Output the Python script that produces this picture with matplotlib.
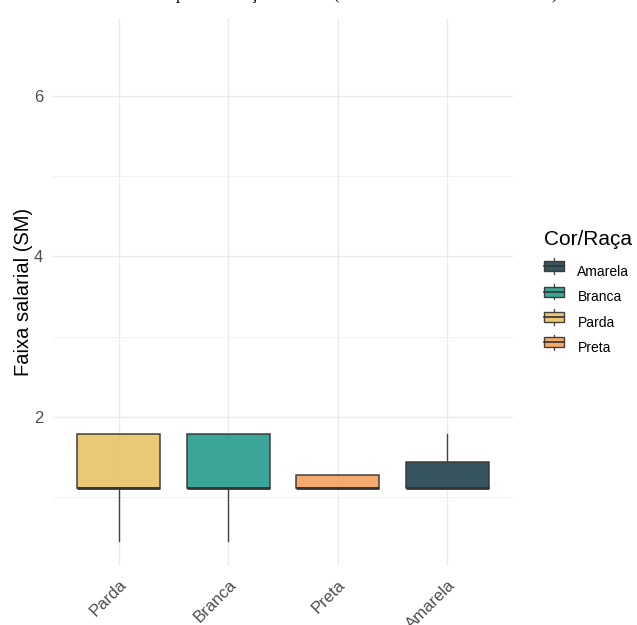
import matplotlib.pyplot as plt
from matplotlib.patches import Rectangle
from matplotlib.lines import Line2D
from matplotlib.legend_handler import HandlerBase

plt.rcParams['font.family'] = ['Liberation Sans', 'DejaVu Sans']

# --- dados (faixa salarial em SM) ---
categorias = ['Parda', 'Branca', 'Preta', 'Amarela']
q1 = [1.116, 1.116, 1.116, 1.116]
mediana = [1.116, 1.116, 1.116, 1.116]
q3 = [1.79, 1.79, 1.278, 1.44]
whis_inf = [0.456, 0.456, 1.116, 1.116]
whis_sup = [1.79, 1.79, 1.278, 1.79]
cores = {'Amarela': '#264653', 'Branca': '#2A9D8F', 'Parda': '#E9C46A', 'Preta': '#F4A261'}
ordem_legenda = ['Amarela', 'Branca', 'Parda', 'Preta']

fig = plt.figure(figsize=(6.37, 6.25), dpi=100, facecolor='white')
ax = fig.add_axes([0.0832, 0.0944, 0.7221, 0.8768])

stats = []
for i, c in enumerate(categorias):
    stats.append({'label': c, 'q1': q1[i], 'med': mediana[i], 'q3': q3[i],
                  'whislo': whis_inf[i], 'whishi': whis_sup[i], 'fliers': []})

pos = list(range(1, len(categorias) + 1))
bp = ax.bxp(stats, positions=pos, widths=0.76, patch_artist=True, showcaps=False,
            showfliers=False, zorder=3,
            boxprops=dict(edgecolor='#333333', linewidth=1.1),
            whiskerprops=dict(color='#444444', linewidth=1.0),
            medianprops=dict(color='#333333', linewidth=2.0))
for patch, c in zip(bp['boxes'], categorias):
    patch.set_facecolor(cores[c])
    patch.set_alpha(0.92)

ax.set_xlim(0.4, len(categorias) + 0.6)
ax.set_ylim(0.144, 6.97)
ax.set_yticks([2, 4, 6])
ax.set_yticks([1, 3, 5], minor=True)
ax.set_xticks(pos)
ax.set_xticklabels(categorias, rotation=45, ha='right', va='top',
                   rotation_mode='anchor', fontsize=12, color='#4D4D4D')
ax.tick_params(axis='y', labelsize=12, labelcolor='#4D4D4D', length=0, pad=7)
ax.tick_params(axis='y', which='minor', length=0)
ax.tick_params(axis='x', length=0, pad=8)
ax.grid(True, which='major', color='#EBEBEB', linewidth=1.0, zorder=0)
ax.grid(True, which='minor', axis='y', color='#F2F2F2', linewidth=0.7, zorder=0)
ax.set_axisbelow(True)
for s in ax.spines.values():
    s.set_visible(False)
ax.set_ylabel('Faixa salarial (SM)', fontsize=14.5, labelpad=1)


class HandlerBox(HandlerBase):
    def create_artists(self, legend, orig, xd, yd, w, h, fs, trans):
        cor = orig.get_facecolor()
        r = Rectangle((xd, yd + h * 0.15), w, h * 0.7, facecolor=cor, edgecolor='#333333',
                      linewidth=1.0, alpha=0.92, transform=trans)
        m = Line2D([xd, xd + w], [yd + h * 0.5] * 2, color='#333333', linewidth=1.2, transform=trans)
        w1 = Line2D([xd + w / 2] * 2, [yd - h * 0.05, yd + h * 0.15], color='#444444', linewidth=0.9, transform=trans)
        w2 = Line2D([xd + w / 2] * 2, [yd + h * 0.85, yd + h * 1.05], color='#444444', linewidth=0.9, transform=trans)
        return [w1, w2, r, m]


handles = [Rectangle((0, 0), 1, 1, facecolor=cores[c]) for c in ordem_legenda]
leg = fig.legend(handles, ordem_legenda, title='Cor/Raça', loc='upper left',
                 bbox_to_anchor=(0.838, 0.648), frameon=False, fontsize=10,
                 title_fontsize=15, handler_map={Rectangle: HandlerBox()},
                 handlelength=1.44, handleheight=1.2, labelspacing=0.76,
                 handletextpad=1.0, alignment='left', borderpad=0.2)
leg._legend_box.sep = 11  # espaco entre titulo e itens

# titulo cortado na parte de cima da imagem
fig.text(0.5, 1 + 1 / 625, 'Faixa Salarial por Cor/Raça e Gênero (em número de salários mínimos)',
         family='Liberation Serif', fontsize=12, ha='center', va='baseline')

fig.savefig('out.png', dpi=100, facecolor='white')
